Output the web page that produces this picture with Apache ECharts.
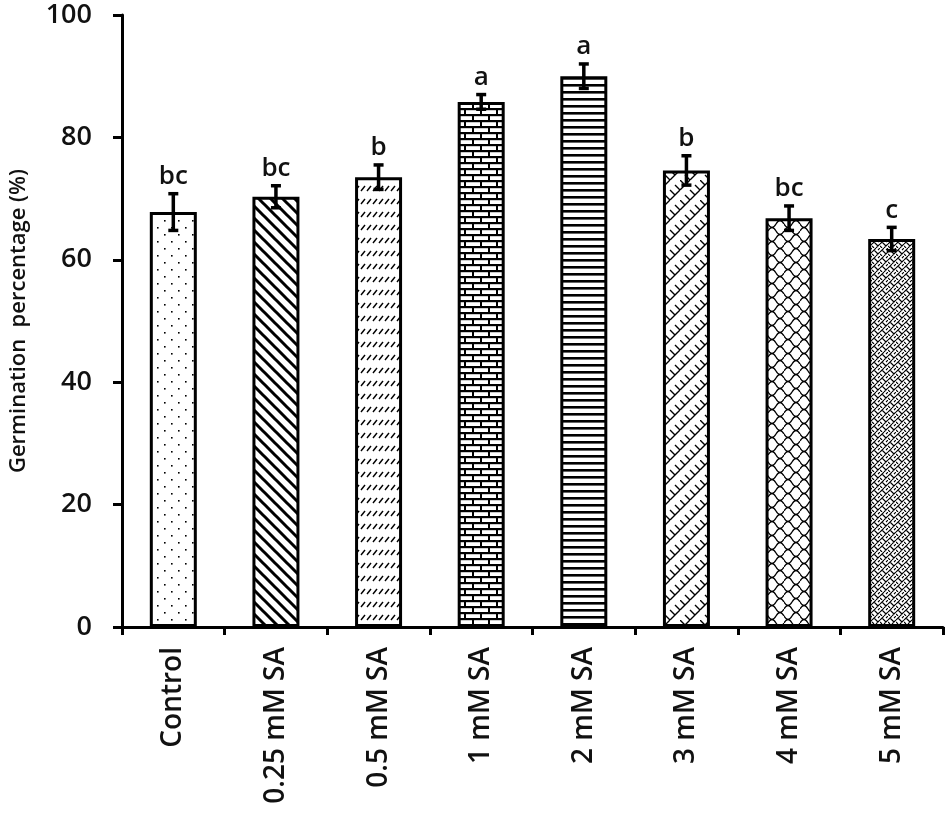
<!DOCTYPE html>
<html><head><meta charset="utf-8">
<script src="https://cdn.jsdelivr.net/npm/echarts@6/dist/echarts.min.js"></script>
<style>html,body{margin:0;padding:0;background:#fff}#c{width:950px;height:821px}</style>
</head><body><div id="c"></div>
<script>
var categories = ['Control','0.25 mM SA','0.5 mM SA','1 mM SA','2 mM SA','3 mM SA','4 mM SA','5 mM SA'];
var means = [67.8, 70.3, 73.5, 85.8, 90.0, 74.6, 66.8, 63.4];
var errors = [3.0, 1.8, 2.0, 1.2, 2.0, 2.4, 2.0, 1.9];
var letters = ['bc','bc','b','a','a','b','bc','c'];
var yMin = 0, yMax = 100, yInterval = 20;

function tile(w, h, draw) {
  var c = document.createElement('canvas'); c.width = w; c.height = h;
  var g = c.getContext('2d'); g.fillStyle = '#fff'; g.fillRect(0,0,w,h);
  g.strokeStyle = '#000'; g.fillStyle = '#000'; draw(g, w, h); return c;
}
var patterns = [
  tile(14, 14, function(g){ g.fillRect(3,3,1.6,1.6); g.fillRect(10,10,1.6,1.6); }),
  tile(12, 12, function(g){ g.lineWidth = 3; g.beginPath();
    for (var k=-1;k<=1;k++){ g.moveTo(k*12-2, -2); g.lineTo(k*12+14, 14); } g.stroke(); }),
  tile(6, 13, function(g){ g.lineWidth = 1.4; g.beginPath(); g.moveTo(1,9); g.lineTo(5,4); g.stroke(); }),
  tile(16, 12, function(g){ g.fillRect(0,0,16,2.2); g.fillRect(0,6,16,2.2);
    g.fillRect(0,0,2,6); g.fillRect(8,6,2,6); }),
  tile(8, 7, function(g){ g.fillRect(0,0,8,2.6); }),
  tile(20, 20, function(g){ g.lineWidth = 1.4; g.beginPath();
    g.moveTo(0,10); g.lineTo(10,0); g.moveTo(10,20); g.lineTo(20,10);
    g.moveTo(0,0); g.lineTo(5,5); g.moveTo(10,10); g.lineTo(15,15);
    g.moveTo(5,15); g.lineTo(10,20); g.moveTo(15,5); g.lineTo(20,10);
    g.moveTo(3,7); g.lineTo(7,3); g.moveTo(13,17); g.lineTo(17,13);
    g.stroke(); }),
  tile(16, 14, function(g){ g.lineWidth = 1.3; g.beginPath();
    g.moveTo(0,7); g.quadraticCurveTo(4,0,8,7); g.quadraticCurveTo(12,14,16,7);
    g.moveTo(-8,14); g.quadraticCurveTo(-4,7,0,14); g.quadraticCurveTo(4,21,8,14); g.quadraticCurveTo(12,7,16,14);
    g.moveTo(0,0); g.quadraticCurveTo(4,7,8,0); g.quadraticCurveTo(12,-7,16,0);
    g.stroke(); }),
  tile(8, 8, function(g){ g.lineWidth = 1.1; g.beginPath();
    g.moveTo(0,4); g.lineTo(4,0); g.moveTo(4,8); g.lineTo(8,4);
    g.moveTo(2,2); g.lineTo(6,6); g.moveTo(0,6); g.lineTo(2,8); g.moveTo(6,2); g.lineTo(8,0);
    g.stroke(); })
];

var font = '"Open Sans", "Noto Sans", sans-serif';
var chart = echarts.init(document.getElementById('c'), null, {renderer: 'canvas'});
chart.setOption({
  animation: false,
  backgroundColor: '#fff',
  grid: {left: 118, right: 7, top: 15, bottom: 194, containLabel: false},
  xAxis: {
    type: 'category', data: categories,
    axisLine: {lineStyle: {color: '#000', width: 3}},
    axisTick: {show: true, length: 8, lineStyle: {color: '#000', width: 3}},
    axisLabel: {rotate: 90, margin: 20, color: '#111', fontSize: 28, fontWeight: 600, fontFamily: font}
  },
  yAxis: {
    type: 'value', min: yMin, max: yMax, interval: yInterval,
    name: 'Germination  percentage (%)', nameLocation: 'middle', nameGap: 92,
    nameTextStyle: {color: '#111', fontSize: 22, fontWeight: 600, fontFamily: font},
    axisLine: {show: true, lineStyle: {color: '#000', width: 3}},
    axisTick: {show: true, length: 9, lineStyle: {color: '#000', width: 3}},
    axisLabel: {margin: 30, color: '#111', fontSize: 27, fontWeight: 600, fontFamily: font},
    splitLine: {show: false}
  },
  series: [{
    type: 'bar', barWidth: 47,
    data: means.map(function(v, i){ return {value: v, itemStyle: {color: {image: patterns[i], repeat: 'repeat'}}}; }),
    itemStyle: {borderColor: '#000', borderWidth: 3}
  }, {
    type: 'custom',
    data: means.map(function(v, i){ return [i, v, errors[i]]; }),
    renderItem: function(params, api) {
      var i = api.value(0), v = api.value(1), e = api.value(2);
      var top = api.coord([i, v + e]), bot = api.coord([i, v - e]);
      var x = top[0], cap = 5;
      return {type: 'group', children: [
        {type: 'line', shape: {x1: x, y1: top[1], x2: x, y2: bot[1]}, style: {stroke: '#000', lineWidth: 3.5}},
        {type: 'line', shape: {x1: x - cap, y1: top[1], x2: x + cap, y2: top[1]}, style: {stroke: '#000', lineWidth: 3.5}},
        {type: 'line', shape: {x1: x - cap, y1: bot[1], x2: x + cap, y2: bot[1]}, style: {stroke: '#000', lineWidth: 3.5}},
        {type: 'text', x: x, y: top[1] - 4, style: {text: letters[params.dataIndex], fill: '#111',
          font: '600 26px ' + font, textAlign: 'center', textVerticalAlign: 'bottom'}}
      ]};
    },
    z: 5
  }]
});
</script></body></html>
